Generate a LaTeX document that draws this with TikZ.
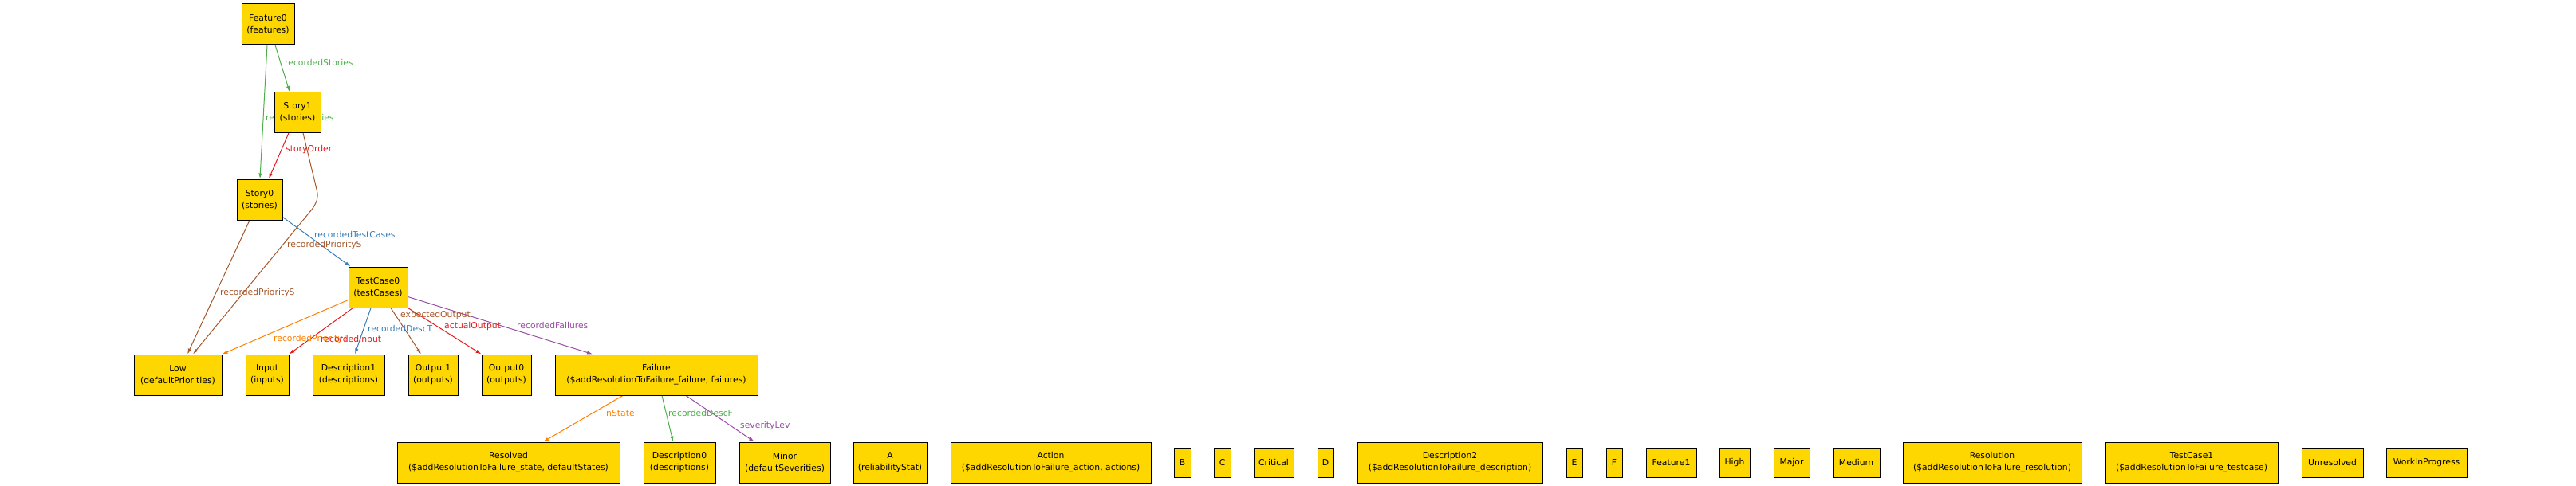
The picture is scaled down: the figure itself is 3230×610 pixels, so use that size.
\documentclass[tikz,border=0pt]{standalone}
\usepackage{fontspec}
\setmainfont{DejaVu Sans}
\usetikzlibrary{arrows.meta,calc,shadows}
\definecolor{boxgold}{HTML}{FFD700}
\definecolor{cgreen}{HTML}{4DAF4A}
\definecolor{cred}{HTML}{E41A1C}
\definecolor{cblue}{HTML}{377EB8}
\definecolor{cpurple}{HTML}{984EA3}
\definecolor{corange}{HTML}{FF7F00}
\definecolor{cbrown}{HTML}{A65628}
\pgfdeclarelayer{edges}
\pgfsetlayers{edges,main}
\begin{document}
\begin{tikzpicture}[x=1pt,y=-1pt,
  box/.style={draw=black, line width=1pt, fill=boxgold, inner sep=0pt, align=center,
    font=\fontsize{10.8}{15}\selectfont,
    drop shadow={shadow xshift=0.8pt,shadow yshift=-0.8pt,fill=black!25}},
  twoline/.style={box, minimum height=51pt},
  oneline/.style={box, minimum height=37pt},
  lbl/.style={anchor=west, inner sep=0pt, font=\fontsize{10.8}{13}\selectfont},
  conn/.style={line width=1pt, -{Latex[length=7pt,width=4.5pt]}}]
\useasboundingbox (0,0) rectangle (3230,610);
% --- nodes ---
\node[twoline, minimum width=66pt] (f0) at (336,30.5) {Feature0\\(features)};
\node[twoline, minimum width=58pt] (s1) at (373,141) {Story1\\(stories)};
\node[twoline, minimum width=57pt] (s0) at (325.5,250.5) {Story0\\(stories)};
\node[twoline, minimum width=74pt] (tc0) at (474,360.5) {TestCase0\\(testCases)};
\node[twoline, minimum width=110pt] (low) at (223,470.5) {Low\\(defaultPriorities)};
\node[twoline, minimum width=54pt] (inp) at (335,470.5) {Input\\(inputs)};
\node[twoline, minimum width=90pt] (d1) at (437,470.5) {Description1\\(descriptions)};
\node[twoline, minimum width=62pt] (o1) at (543,470.5) {Output1\\(outputs)};
\node[twoline, minimum width=62pt] (o0) at (635,470.5) {Output0\\(outputs)};
\node[twoline, minimum width=254pt] (fail) at (823,470.5) {Failure\\(\$addResolutionToFailure\_failure, failures)};
\node[twoline, minimum width=279pt] (res) at (637.5,580.5) {Resolved\\(\$addResolutionToFailure\_state, defaultStates)};
\node[twoline, minimum width=90pt] (d0) at (852,580.5) {Description0\\(descriptions)};
\node[twoline, minimum width=114pt] (minor) at (984,580.5) {Minor\\(defaultSeverities)};
\node[twoline, minimum width=92pt] (a) at (1116,580.5) {A\\(reliabilityStat)};
\node[twoline, minimum width=251pt] (action) at (1317.5,580.5) {Action\\(\$addResolutionToFailure\_action, actions)};
\node[oneline, minimum width=21pt] (b) at (1482.5,580.5) {B};
\node[oneline, minimum width=21pt] (c) at (1532.5,580.5) {C};
\node[oneline, minimum width=50pt] (crit) at (1597,580.5) {Critical};
\node[oneline, minimum width=20pt] (d) at (1662,580.5) {D};
\node[twoline, minimum width=232pt] (d2) at (1818,580.5) {Description2\\(\$addResolutionToFailure\_description)};
\node[oneline, minimum width=20pt] (e) at (1974,580.5) {E};
\node[oneline, minimum width=20pt] (f) at (2024,580.5) {F};
\node[oneline, minimum width=63pt] (f1) at (2095.5,580.5) {Feature1};
\node[oneline, minimum width=38pt] (high) at (2175,580.5) {High};
\node[oneline, minimum width=45pt] (major) at (2246.5,580.5) {Major};
\node[oneline, minimum width=59pt] (medium) at (2327.5,580.5) {Medium};
\node[twoline, minimum width=224pt] (resol) at (2498,580.5) {Resolution\\(\$addResolutionToFailure\_resolution)};
\node[twoline, minimum width=216pt] (tc1) at (2748,580.5) {TestCase1\\(\$addResolutionToFailure\_testcase)};
\node[oneline, minimum width=77pt] (unres) at (2924.5,580.5) {Unresolved};
\node[oneline, minimum width=101pt] (wip) at (3042.5,580.5) {WorkInProgress};
% --- connectors ---
\begin{pgfonlayer}{edges}
\coordinate (bend1) at (399,246);
\coordinate (bend2) at (395,258);
\draw[conn, cgreen] ([xshift=9pt]f0.south) -- ([xshift=-10pt]s1.north);
\draw[conn, cgreen] ([xshift=-1pt]f0.south) -- ([xshift=0.5pt]s0.north);
\draw[conn, cred] ([xshift=-11pt]s1.south) -- ([xshift=11.5pt]s0.north);
\draw[conn, cbrown, rounded corners=6pt] ([xshift=7pt]s1.south) -- (bend1) -- (bend2) -- ([xshift=19pt]low.north);
\draw[conn, cbrown] ([xshift=-12.5pt]s0.south) -- ([xshift=12pt]low.north);
\draw[conn, cblue] ([yshift=4pt]s0.south east) -- ([xshift=3pt]tc0.north west);
\draw[conn, corange] ([yshift=10pt]tc0.south west) -- (low.north east);
\draw[conn, cred] ([xshift=6pt]tc0.south west) -- (inp.north east);
\draw[conn, cblue] ([xshift=-9pt]tc0.south) -- ([xshift=8pt]d1.north);
\draw[conn, cbrown] ([xshift=16pt]tc0.south) -- ([xshift=-15pt]o1.north);
\draw[conn, cred] (tc0.south east) -- (o0.north west);
\draw[conn, cpurple] ([yshift=14pt]tc0.south east) -- ([xshift=-80pt]fail.north);
\draw[conn, corange] ([xshift=-42pt]fail.south) -- ([xshift=43.5pt]res.north);
\draw[conn, cgreen] ([xshift=7pt]fail.south) -- ([xshift=-8pt]d0.north);
\draw[conn, cpurple] ([xshift=37pt]fail.south) -- ([xshift=-38pt]minor.north);
% --- labels ---
\node[lbl, cgreen] (l1) at (357,78) {recordedStories};
\node[lbl, cgreen] (l2) at (333,147) {recordedStories};
\node[lbl, cred] (l3) at (358,188) {storyOrder};
\node[lbl, cbrown] (l4) at (360,308) {recordedPriorityS};
\node[lbl, cbrown] (l5) at (276,368) {recordedPriorityS};
\node[lbl, cblue] (l6) at (394,294) {recordedTestCases};
\node[lbl, corange] (l7) at (343,426) {recordedPriorityT};
\node[lbl, cred] (l8) at (402,427) {recordedInput};
\node[lbl, cblue] (l9) at (461,412) {recordedDescT};
\node[lbl, cbrown] (l10) at (502,396) {expectedOutput};
\node[lbl, cred] (l11) at (557,410) {actualOutput};
\node[lbl, cpurple] (l12) at (648,408) {recordedFailures};
\node[lbl, corange] (l13) at (757,518) {inState};
\node[lbl, cgreen] (l14) at (838,518) {recordedDescF};
\node[lbl, cpurple] (l15) at (928,535) {severityLev};
\end{pgfonlayer}
\end{tikzpicture}
\end{document}
